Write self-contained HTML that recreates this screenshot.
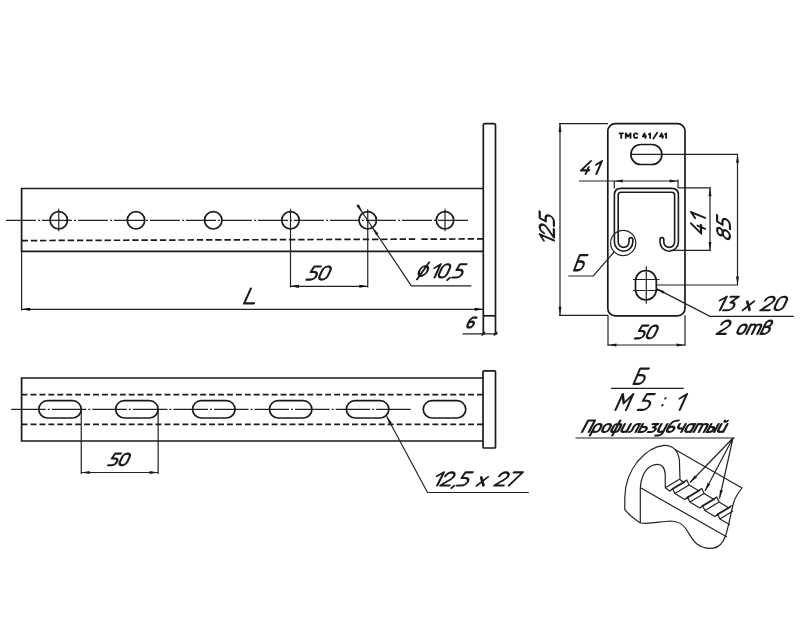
<!DOCTYPE html>
<html><head><meta charset="utf-8">
<style>
html,body{margin:0;padding:0;background:#fff;}
body{width:800px;height:640px;overflow:hidden;}
svg{display:block;}
text{font-family:"Liberation Sans",sans-serif;font-style:italic;fill:#1a1a1a;}
.m{stroke:#1a1a1a;stroke-width:1.7;fill:none;}
.t{stroke:#222;stroke-width:1.2;fill:none;}
.c{stroke:#222;stroke-width:1.2;fill:none;stroke-dasharray:30 2 2 2;}
.h{stroke:#1a1a1a;stroke-width:1.7;fill:none;stroke-dasharray:6.6 2.69;}
.a{fill:#1a1a1a;stroke:none;}
.gt{fill:none;stroke:#1a1a1a;stroke-linecap:round;stroke-linejoin:round;}
</style></head>
<body>
<svg width="800" height="640" viewBox="0 0 800 640">
<defs>
<path id="ar" d="M0 0 L-8.5 -1.5 L-8.5 1.5 Z"/>
<path id="g48" d="M0 -7 A3 3 0 0 1 6 -7 V-3 A3 3 0 0 1 0 -3 Z"/>
<path id="g49" d="M1.5 -7.2 L4.8 -10 V0"/>
<path id="g50" d="M0.1 -7.1 A2.95 2.9 0 0 1 6 -7.1 C6 -5 2.6 -3 0 0 H6.2"/>
<path id="g51" d="M0.6 -10 H6 L2.4 -5.8 H3 A3 2.9 0 0 1 3 0 H0"/>
<path id="g52" d="M4.6 -10 L0 -2.8 H6.6 M5 -5.2 V0"/>
<path id="g53" d="M6 -10 H1.2 L0.6 -5.8 H3 A3 2.9 0 0 1 3 0 H0"/>
<path id="g54" d="M5.9 -9.6 C3 -10.6 0 -9.3 0 -5.6 V-2.9 A3 2.9 0 0 0 6 -2.9 A3 2.9 0 0 0 0 -2.9"/>
<path id="g55" d="M0 -10 H6 L1.2 0"/>
<path id="g56" d="M3 -5.6 A2.6 2.2 0 0 0 3 -10 A2.6 2.2 0 0 0 3 -5.6 A3 2.8 0 0 1 3 0 A3 2.8 0 0 1 3 -5.6"/>
<path id="g76" d="M0 -10 V0 H6.5"/>
<path id="g120" d="M0 -6.5 L4.6 0 M4.6 -6.5 L0 0"/>
<path id="g44" d="M0.8 0.2 L-0.2 1.8"/>
<path id="g58" d="M0.6 -7.3 L0.6 -7.2 M0.6 -3 L0.6 -2.9"/>
<path id="g77" d="M0 0 V-10 L3.3 -4.2 L6.6 -10 V0"/>
<path id="g66" d="M6 -10 H0 V0 H3 A3 2.9 0 0 0 3 -5.8 H0"/>
<path id="g111" d="M0 -4.6 A2.4 2.4 0 0 1 4.8 -4.6 V-2.4 A2.4 2.4 0 0 1 0 -2.4 Z"/>
<path id="g116" d="M0 0 V-7 M0 -5.2 A1.9 1.9 0 0 1 3.8 -5.2 V0 M3.8 -5.2 A1.9 1.9 0 0 1 7.6 -5.2 V0"/>
<path id="g118" d="M0 0 V-7.6 A2.1 2.4 0 0 1 4.2 -7.6 C4.2 -6 3 -5.3 1.4 -5.3 H2.3 A2.5 2.65 0 0 1 2.3 0 H0"/>
<path id="g68" d="M0.4 1.3 L3.6 -11.3 M2.2 -5 m-3 0 a3 3.7 0 1 0 6 0 a3 3.7 0 1 0 -6 0"/>
<path id="g1055" d="M0 0 V-10 H5 V0"/>
<path id="g1088" d="M0 3 V-4.6 A2.4 2.4 0 0 1 4.8 -4.6 V-2.4 A2.4 2.4 0 0 1 0 -2.4"/>
<path id="g1086" d="M0 -4.6 A2.4 2.4 0 0 1 4.8 -4.6 V-2.4 A2.4 2.4 0 0 1 0 -2.4 Z"/>
<path id="g1092" d="M2.6 -10 V3 M1.8 -7 A1.8 2.2 0 0 0 0 -4.8 V-2.2 A1.8 2.2 0 0 0 1.8 0 H3.4 A1.8 2.2 0 0 0 5.2 -2.2 V-4.8 A1.8 2.2 0 0 0 3.4 -7 Z"/>
<path id="g1080" d="M0 -7 V-2.2 A2.2 2.2 0 0 0 4.4 -2.2 M4.4 -7 V0"/>
<path id="g1083" d="M-0.3 0 A1.5 1.5 0 0 0 1.2 -1.5 V-5 A2 2 0 0 1 3.2 -7 H4.6 V0"/>
<path id="g1100" d="M0 -7 V0 H2.4 A2.4 2.2 0 0 0 2.4 -4.4 H0"/>
<path id="g1079" d="M0.3 -7 H4.4 L1.8 -4.1 H2.2 A2.3 2.05 0 0 1 2.2 0 H0"/>
<path id="g1091" d="M0 -7 V-2.2 A2.2 2.2 0 0 0 4.4 -2.2 M4.4 -7 V1 A2.2 2 0 0 1 2.2 3 H0"/>
<path id="g1073" d="M4.8 -10 C2.5 -10 0 -9.4 0 -5.2 V-2.3 A2.4 2.3 0 0 0 4.8 -2.3 V-2.4 A2.4 2.3 0 0 0 0 -2.4"/>
<path id="g1095" d="M0 -7 V-5 A2.2 2 0 0 0 2.2 -3 H4.4 M4.4 -7 V0"/>
<path id="g1072" d="M4.8 -7 V0 M4.8 -4.6 A2.4 2.4 0 0 0 0 -4.6 V-2.4 A2.4 2.4 0 0 0 4.8 -2.4"/>
<path id="g1090" d="M0 0 V-7 M0 -5.2 A1.9 1.9 0 0 1 3.8 -5.2 V0 M3.8 -5.2 A1.9 1.9 0 0 1 7.6 -5.2 V0"/>
<path id="g1099" d="M0 -7 V0 H1.8 A2 2.2 0 0 0 1.8 -4.4 H0 M5.4 -7 V0"/>
<path id="g1081" d="M0 -7 V-2.2 A2.2 2.2 0 0 0 4.4 -2.2 M4.4 -7 V0 M1.2 -9.8 A1.1 0.9 0 0 0 3.4 -9.8"/>
<path id="g57345" d="M0 -10 H7 M3.5 -10 V0"/>
<path id="g57346" d="M0 0 V-10 L4.85 -3.2 L9.7 -10 V0"/>
<path id="g57347" d="M7 -8.6 C6.2 -9.6 5 -10 3.8 -10 C1.5 -10 0 -8 0 -5 C0 -2 1.5 0 3.8 0 C5 0 6.2 -0.4 7 -1.4"/>
<path id="g57348" d="M3.4 -10 L0 -3.4 H6.4 M5.2 -6 V0"/>
<path id="g57349" d="M0 -7.6 L2.4 -10 V0"/>
<path id="g57350" d="M0 1.3 L7.9 -11.3"/>
<path id="g57351" d="M3.4 -10 L0 -3.4 H6.4 M5.2 -6 V0"/>
</defs>
<rect x="0" y="0" width="800" height="640" fill="#fff"/>

<!-- ===== VIEW 1 ===== -->
<g id="v1">
<path class="m" d="M483.3 188.5 H21.6 V251.3 H483.3"/>
<path class="m" d="M483.3 335 V125.5 Q483.3 123.7 485 123.7 H493.8 Q495.5 123.7 495.5 125.5 V335"/>
<path class="m" d="M483.3 315.8 H495.5"/>
<path class="c" d="M6 220.3 H469.5"/>
<path class="h" style="stroke-dasharray:6.4 2.82" d="M21.6 240.6 L415.4 239.15"/>
<path class="h" style="stroke-dasharray:6.4 2.85" d="M421.4 239.13 L483.3 238.9"/>
<g class="m">
<circle cx="58.75" cy="220.3" r="8.7"/>
<circle cx="136" cy="220.3" r="8.7"/>
<circle cx="213.25" cy="220.3" r="8.7"/>
<circle cx="290.5" cy="220.3" r="8.7"/>
<circle cx="367.75" cy="220.3" r="8.7"/>
<circle cx="445" cy="220.3" r="8.7"/>
</g>
<path class="t" d="M58.75 208.8 V231.3 M445 208.8 V231.3 M290.5 208.8 V287.5 M367.75 209.3 V287.5"/>
<!-- dim 50 -->
<path class="t" d="M290.5 286.3 H367.75"/>
<use href="#ar" transform="translate(290.5 286.3) rotate(180)"/>
<use href="#ar" transform="translate(367.75 286.3)"/>
<!-- L dim -->
<path class="t" d="M21.6 251.3 V310.5 M21.6 309.3 H483.3"/>
<use href="#ar" transform="translate(21.6 309.3) rotate(180)"/>
<use href="#ar" transform="translate(483.3 309.3)"/>
<!-- 6 dim -->
<path class="t" d="M462.5 333.8 H497.5"/>
<path class="m" stroke-width="2" d="M481.6 335.5 L485 332.1 M493.8 335.5 L497.2 332.1"/>
<!-- phi leader -->
<path class="t" d="M357 204.5 L411.3 285.8 H471.3"/>
</g>
<g class="a">
<use href="#ar" transform="translate(362.5 212.5) rotate(56.3)"/>
<use href="#ar" transform="translate(372.6 227.6) rotate(236.3)"/>
<use href="#ar" transform="translate(290.5 286.3) rotate(180)"/>
</g>

<!-- ===== VIEW 2 ===== -->
<g id="v2">
<path class="m" d="M483 378 H21.6 V441 H483"/>
<rect class="m" x="483" y="370.8" width="12.5" height="77.2" rx="1"/>
<path class="h" style="stroke-dasharray:5.9 3.03" d="M21.6 394.7 H483 M21.6 424.4 H483"/>
<path class="c" style="stroke-dasharray:34.55 2 2 2" d="M11.2 409.3 H411.8"/>
<g class="m">
<rect x="38.75" y="400.7" width="42.5" height="17.3" rx="8.65"/>
<rect x="115.65" y="400.7" width="42.5" height="17.3" rx="8.65"/>
<rect x="192.55" y="400.7" width="42.5" height="17.3" rx="8.65"/>
<rect x="269.45" y="400.7" width="42.5" height="17.3" rx="8.65"/>
<rect x="346.35" y="400.7" width="42.5" height="17.3" rx="8.65"/>
<rect x="423.25" y="400.7" width="42.5" height="17.3" rx="8.65"/>
</g>
<path class="t" d="M81.25 409.3 V474 M158.15 409.3 V474 M81.25 472.5 H158.15"/>
<use href="#ar" class="a" transform="translate(81.25 472.5) rotate(180)"/>
<use href="#ar" class="a" transform="translate(158.15 472.5)"/>
<path class="t" d="M386.6 416.3 L427.5 492.5 H528.8"/>
<use href="#ar" class="a" transform="translate(386.6 416.3) rotate(241.8)"/>
</g>

<!-- ===== VIEW 3 ===== -->
<g id="v3">
<rect class="m" x="607.8" y="123.6" width="77.2" height="192.3" rx="7.5"/>
<rect class="m" x="630.9" y="144.5" width="31" height="20" rx="10"/>
<path class="t" d="M631 154.3 H738"/>
<!-- C channel: double line -->
<path d="M616.3 242 V195 Q616.3 190.3 621 190.3 H671.8 Q676.5 190.3 676.5 195 V242 A7.3 7.3 0 0 1 661.9 242 V239.5 M630.9 239.5 V242 A7.3 7.3 0 0 1 616.3 242" fill="none" stroke="#1a1a1a" stroke-width="5.4" stroke-linecap="round"/>
<path d="M616.3 242 V195 Q616.3 190.3 621 190.3 H671.8 Q676.5 190.3 676.5 195 V242 A7.3 7.3 0 0 1 661.9 242 V239.5 M630.9 239.5 V242 A7.3 7.3 0 0 1 616.3 242" fill="none" stroke="#fff" stroke-width="2.2" stroke-linecap="round"/>
<circle class="t" cx="623.2" cy="243" r="12.6" stroke-width="1.4"/>
<path class="t" d="M614.5 251.5 L593.3 276 H568.3"/>
<!-- bottom slot -->
<rect class="m" x="635.5" y="270.5" width="20.8" height="29.5" rx="10.4"/>
<path class="t" d="M646.3 266.3 V303.8 M633 279.5 H659.5 M633 290.5 H659.5 M656 285 H738"/>
<path class="t" d="M656.3 288.6 L710 316.3 H793.8"/>
<use href="#ar" class="a" transform="translate(656.3 288.6) rotate(207.3)"/>
<!-- dims -->
<path class="t" d="M559 123.6 H608 M559 315.3 H608 M560 123.6 V315.3"/>
<use href="#ar" class="a" transform="translate(560 123.6) rotate(-90)"/>
<use href="#ar" class="a" transform="translate(560 315.3) rotate(90)"/>
<path class="t" d="M737.5 154.3 V285"/>
<use href="#ar" class="a" transform="translate(737.5 154.3) rotate(-90)"/>
<use href="#ar" class="a" transform="translate(737.5 285) rotate(90)"/>
<path class="t" d="M678 187.8 H711 M670 250.4 H711 M710 187.8 V250.4"/>
<use href="#ar" class="a" transform="translate(710 187.8) rotate(-90)"/>
<use href="#ar" class="a" transform="translate(710 250.4) rotate(90)"/>
<path class="t" d="M579 181 H678 M614.3 181 V188.5 M678 179.6 V188"/>
<use href="#ar" class="a" transform="translate(614.3 181) rotate(180)"/>
<use href="#ar" class="a" transform="translate(678 181)"/>
<path class="t" d="M608 315.3 V346 M685 315.3 V346 M608 345 H685"/>
<use href="#ar" class="a" transform="translate(608 345) rotate(180)"/>
<use href="#ar" class="a" transform="translate(685 345)"/>
</g>

<!-- ===== DETAIL B ===== -->
<g id="v4">
<path class="t" d="M611 388.3 H683.8"/>
<path class="t" d="M575.5 438 H735"/>
<g class="t" id="iso" stroke-linejoin="round" stroke-width="1.5" stroke="#1a1a1a">
<path d="M640.3 523 C634 519 627.5 513 624.8 509.7 L624.8 497 C625 485 628.5 473 637.5 461.5 C645.5 452 655 446 664 445.3 C672 445 678 450 679.4 460 L680 479.5"/>
<path d="M640.3 523 V488 C640.6 478 645 469.5 651 466 C654 464.5 656 464.2 658 464.3 C662 464.8 664.8 468 665.2 474 L665.3 487.8"/>
<path d="M675 449.4 L742 488 C738 493 735 498 733.5 503 C731 512 729 525 725.5 536 C723 543 719 547.5 713 548.2 C707 548.8 701 547 697 544 C692 540 689 533 685 527.5 C681 522.5 676 521 670 521 C660 521.5 650 524.5 640.3 523"/>
<path d="M640.5 487.8 L727 537"/>
<path id="teeth" d="M665.3 487.8 L669.8 491.1 L672.6 488.4 L674.9 493.6 L684.8 499.6 L687.6 496.9 L689.9 502.1 L699.8 508.1 L702.6 505.4 L704.9 510.6 L714.8 516.6 L717.6 513.9 L719.9 519.1 L730 524.7 M679.5 479.3 L684 482.6 L686.8 479.9 L689.1 485.1 L699 491.1 L701.8 488.4 L704.1 493.6 L714 499.6 L716.8 496.9 L719.1 502.1 L729 508.1 L731.8 505.4 M665.3 487.8 L679.5 479.3 M669.8 491.1 L684 482.6 M672.6 488.4 L686.8 479.9 M674.9 493.6 L689.1 485.1 M684.8 499.6 L699 491.1 M687.6 496.9 L701.8 488.4 M689.9 502.1 L704.1 493.6 M699.8 508.1 L714 499.6 M702.6 505.4 L716.8 496.9 M704.9 510.6 L719.1 502.1 M714.8 516.6 L729 508.1 M717.6 513.9 L731.8 505.4 M719.9 519.1 L733 511"/>
</g>
<g class="t" id="leaders" stroke="#1a1a1a">
<path d="M733 438 L690 482.5 M733 438 L705 491 M733 438 L719.5 498.5"/>
</g>
<g class="a">
<use href="#ar" transform="translate(690 482.5) rotate(134)"/>
<use href="#ar" transform="translate(705 491) rotate(117.8)"/>
<use href="#ar" transform="translate(719.5 498.5) rotate(102.6)"/>
</g>
<g id="t50a" class="gt" transform="matrix(1.3565 0 0 1.3100 306.500 279.600)" stroke-width="1.650"><g transform="matrix(1 0 -0.450 1 0 0)"><use href="#g53" x="0.00"/><use href="#g48" x="8.40"/></g></g>
<g id="tL" class="gt" transform="matrix(1.5077 0 0 1.4800 244.100 303.400)" stroke-width="1.473"><g transform="matrix(1 0 -0.450 1 0 0)"><use href="#g76" x="0.00"/></g></g>
<g id="tphi" class="gt" transform="matrix(1.3439 0 0 1.3240 417.349 277.517)" stroke-width="1.649"><g transform="matrix(1 0 -0.450 1 0 0)"><use href="#g68" x="0.00"/><use href="#g49" x="8.00"/><use href="#g48" x="15.00"/><use href="#g44" x="23.40"/><use href="#g53" x="26.00"/></g></g>
<g id="t6" class="gt" transform="matrix(0.9796 0 0 1.0076 466.388 327.500)" stroke-width="2.214"><g transform="matrix(1 0 -0.450 1 0 0)"><use href="#g54" x="0.00"/></g></g>
<g id="t50b" class="gt" transform="matrix(1.2219 0 0 1.1600 108.100 465.200)" stroke-width="1.848"><g transform="matrix(1 0 -0.450 1 0 0)"><use href="#g53" x="0.00"/><use href="#g48" x="8.40"/></g></g>
<g id="t125x27" class="gt" transform="matrix(1.4769 0 0 1.3136 430.099 485.536)" stroke-width="1.579"><g transform="matrix(1 0 -0.450 1 0 0)"><use href="#g49" x="0.00"/><use href="#g50" x="7.00"/><use href="#g44" x="15.60"/><use href="#g53" x="18.20"/><use href="#g120" x="31.60"/><use href="#g50" x="43.60"/><use href="#g55" x="52.20"/></g></g>
<g id="t41a" class="gt" transform="matrix(1.2392 0 0 1.2800 579.498 173.900)" stroke-width="1.747"><g transform="matrix(1 0 -0.450 1 0 0)"><use href="#g52" x="0.00"/><use href="#g49" x="8.80"/></g></g>
<g id="t125" class="gt" transform="matrix(0 -1.3624 1.4200 0 553.900 246.958)" stroke-width="1.582"><g transform="matrix(1 0 -0.450 1 0 0)"><use href="#g49" x="0.00"/><use href="#g50" x="7.00"/><use href="#g53" x="15.60"/></g></g>
<g id="t41b" class="gt" transform="matrix(0 -1.2690 1.3800 0 704.900 235.040)" stroke-width="1.662"><g transform="matrix(1 0 -0.450 1 0 0)"><use href="#g52" x="0.00"/><use href="#g49" x="8.80"/></g></g>
<g id="t85" class="gt" transform="matrix(0 -1.3300 1.2800 0 729.900 240.237)" stroke-width="1.686"><g transform="matrix(1 0 -0.450 1 0 0)"><use href="#g56" x="0.00"/><use href="#g53" x="8.40"/></g></g>
<g id="tB1" class="gt" transform="matrix(1.2771 0 0 1.5100 574.090 270.200)" stroke-width="1.584"><g transform="matrix(1 0 -0.450 1 0 0)"><use href="#g66" x="0.00"/></g></g>
<g id="t13x20" class="gt" transform="matrix(1.4683 0 0 1.3500 712.940 310.200)" stroke-width="1.563"><g transform="matrix(1 0 -0.450 1 0 0)"><use href="#g49" x="0.00"/><use href="#g51" x="7.00"/><use href="#g120" x="20.40"/><use href="#g50" x="32.40"/><use href="#g48" x="41.00"/></g></g>
<g id="t2otv" class="gt" transform="matrix(1.4451 0 0 1.3300 716.681 333.900)" stroke-width="1.587"><g transform="matrix(1 0 -0.450 1 0 0)"><use href="#g50" x="0.00"/><use href="#g111" x="13.60"/><use href="#g116" x="20.60"/><use href="#g118" x="30.40"/></g></g>
<g id="t50c" class="gt" transform="matrix(1.2780 0 0 1.2800 634.900 338.400)" stroke-width="1.720"><g transform="matrix(1 0 -0.450 1 0 0)"><use href="#g53" x="0.00"/><use href="#g48" x="8.40"/></g></g>
<g id="tB2" class="gt" transform="matrix(1.4582 0 0 1.5300 633.589 383.900)" stroke-width="1.473"><g transform="matrix(1 0 -0.450 1 0 0)"><use href="#g66" x="0.00"/></g></g>
<g id="tM51" class="gt" transform="matrix(1.5981 0 0 1.5800 615.500 409.900)" stroke-width="1.384"><g transform="matrix(1 0 -0.450 1 0 0)"><use href="#g77" x="0.00"/><use href="#g53" x="14.00"/><use href="#g58" x="27.40"/><use href="#g49" x="35.40"/></g></g>
<g id="tprof" class="gt" transform="matrix(1.3455 0 0 1.1385 582.100 431.985)" stroke-width="1.778"><g transform="matrix(1 0 -0.450 1 0 0)"><use href="#g1055" x="0.00"/><use href="#g1088" x="7.20"/><use href="#g1086" x="14.20"/><use href="#g1092" x="21.20"/><use href="#g1080" x="28.60"/><use href="#g1083" x="35.20"/><use href="#g1100" x="42.00"/><use href="#g1079" x="49.00"/><use href="#g1091" x="55.80"/><use href="#g1073" x="62.40"/><use href="#g1095" x="69.40"/><use href="#g1072" x="76.00"/><use href="#g1090" x="83.00"/><use href="#g1099" x="92.80"/><use href="#g1081" x="100.40"/></g></g>
<g id="ttmc" class="gt" transform="matrix(0.4905 0 0 0.4683 619.500 137.991)" stroke-width="3.756"><g transform="matrix(1 0 -0.000 1 0 0)"><use href="#g57345" x="0.00"/><use href="#g57346" x="12.80"/><use href="#g57347" x="29.30"/><use href="#g57348" x="47.60"/><use href="#g57349" x="60.00"/><use href="#g57350" x="68.90"/><use href="#g57351" x="82.50"/><use href="#g57349" x="92.80"/></g></g>
</svg>
</body></html>
